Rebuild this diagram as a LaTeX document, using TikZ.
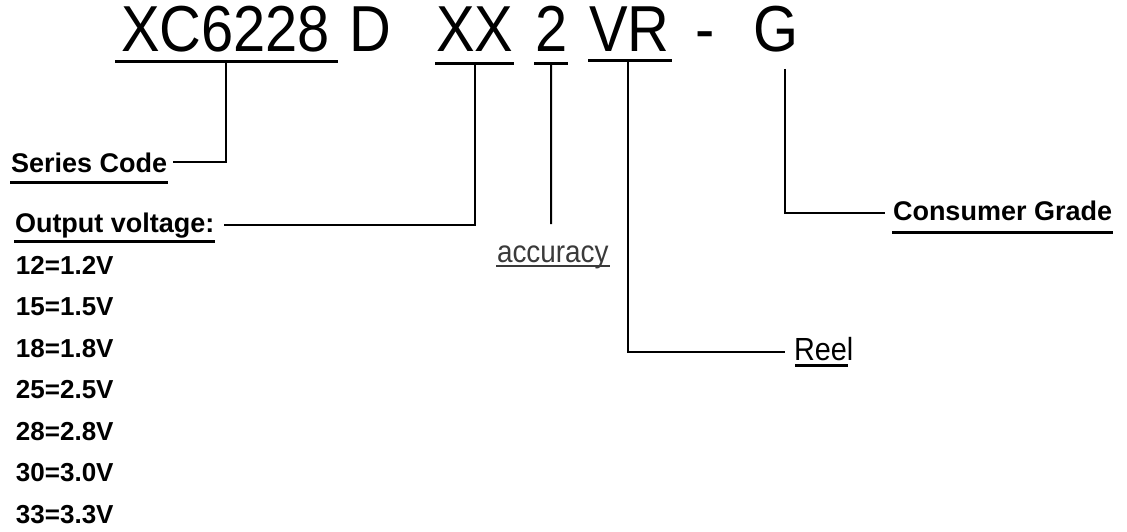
\documentclass[tikz,border=0pt]{standalone}
\usepackage{fontspec}
\setmainfont{Liberation Sans}
\newfontfamily\bigfont[FakeStretch=0.89]{Liberation Sans}
\newfontfamily\accfont[FakeStretch=0.9]{Liberation Sans}
\definecolor{accgray}{HTML}{3A3A3A}
\begin{document}
\begin{tikzpicture}[x=1pt,y=-1pt,line width=2pt,
  big/.style={font=\bigfont\fontsize{65}{65}\selectfont,inner sep=0pt,anchor=base west},
  lbl/.style={font=\fontsize{27}{27}\selectfont\bfseries,inner sep=0pt,anchor=base west},
  val/.style={font=\fontsize{26}{26}\selectfont\bfseries,inner sep=0pt,anchor=base west},
  ul/.style={line width=3pt}]
\useasboundingbox (0,0) rectangle (1127,532);
%part number
\node[big] (ser) at (120,52){XC6228};
\node[big] (typ) at (348,52){D};
\node[big] (vol) at (435,52){XX};
\node[big] (acc) at (534,52){2};
\node[big] (pkg) at (588,52){VR};
\node[big] (dash) at (694,52){-};
\node[big] (grd) at (752,52){G};
%underlines
\draw[ul] ([xshift=-5pt,yshift=-10pt]ser.base west) -- ([xshift=7pt,yshift=-10pt]ser.base east);
\draw[ul] ([yshift=-12pt]vol.base west) -- ([yshift=-12pt]vol.base east);
\draw[ul] ([yshift=-12pt]acc.base west) -- ([yshift=-12pt]acc.base east);
\draw[ul] ([yshift=-9pt]pkg.base west) -- ([xshift=2pt,yshift=-9pt]pkg.base east);

%labels
\node[lbl] (serlbl) at (10,172){Series Code};
\node[lbl] (vollbl) at (14,232){Output voltage:};
\node[val] (v1) at (15,274){12=1.2V};
\node[val] (v2) at (15,315.5){15=1.5V};
\node[val] (v3) at (15,357){18=1.8V};
\node[val] (v4) at (15,398.5){25=2.5V};
\node[val] (v5) at (15,440){28=2.8V};
\node[val] (v6) at (15,481.5){30=3.0V};
\node[val] (v7) at (15,523){33=3.3V};
\node[inner sep=0pt,anchor=base west,text=accgray,font=\accfont\fontsize{31}{31}\selectfont] (acclbl) at (496,262){accuracy};
\node[lbl] (grdlbl) at (892,220){Consumer Grade};
\node[inner sep=0pt,anchor=base west,font=\accfont\fontsize{32}{32}\selectfont] (pkglbl) at (793,360){Reel};
\draw[ul] ([yshift=-10pt]serlbl.base west) -- ([yshift=-10pt]serlbl.base east);
\draw[ul] ([yshift=-9pt]vollbl.base west) -- ([yshift=-9pt]vollbl.base east);
\draw[ul,accgray,line width=2.5pt] ([yshift=-4pt]acclbl.base west) -- ([yshift=-4pt]acclbl.base east);
\draw[ul] ([yshift=-12pt]grdlbl.base west) -- ([yshift=-12pt]grdlbl.base east);
\draw[ul] ([xshift=2pt,yshift=-5pt]pkglbl.base west) -- ([xshift=-6pt,yshift=-5pt]pkglbl.base east);

%connectors
\draw ([yshift=-10pt]ser.base) |- ([xshift=5pt]serlbl.east);
\draw ([yshift=-12pt]vol.base) |- ([xshift=9pt]vollbl.east);
\coordinate (accend) at (551,224);
\draw ([yshift=-12pt]acc.base) -- (accend);
\draw ([xshift=-1pt,yshift=-9pt]pkg.base) |- ([xshift=-8pt,yshift=-3pt]pkglbl.west);
\draw ([xshift=9pt,yshift=-17pt]grd.base) |- ([xshift=-7pt,yshift=-3pt]grdlbl.west);
\end{tikzpicture}
\end{document}
